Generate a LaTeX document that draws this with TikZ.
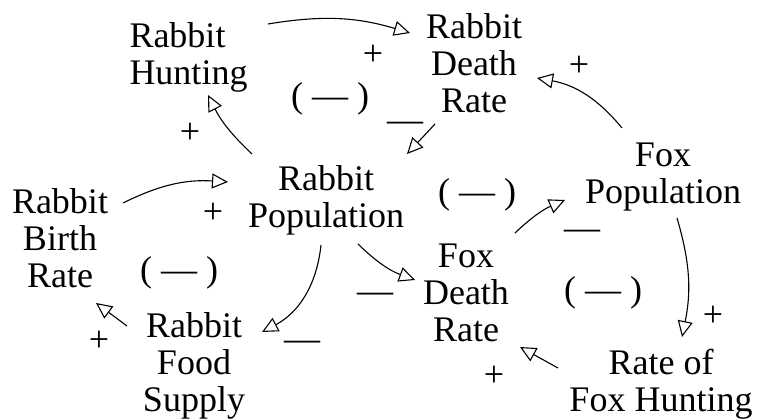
\documentclass[tikz,border=0pt]{standalone}
\usepackage{fontspec}
\setmainfont{Liberation Serif}
\usetikzlibrary{arrows.meta}
\begin{document}
\begin{tikzpicture}[x=1pt,y=1pt,
  lbl/.style={font=\fontsize{36}{37}\selectfont, inner sep=0pt, align=center},
  sgn/.style={font=\fontsize{36}{37}\selectfont, inner sep=0pt, anchor=base},
  link/.style={line width=1.1pt, -{Triangle[open,length=16pt,width=15pt,line width=1.1pt]}}]
\useasboundingbox (0,0) rectangle (757,419);
% nodes
\node[lbl, align=left] (RH) at (188.5,361.5) {Rabbit\\Hunting};
\node[lbl] (RDR) at (474,356) {Rabbit\\Death\\Rate};
\node[lbl] (RP) at (326,219) {Rabbit\\Population};
\node[lbl] (RBR) at (60,181) {Rabbit\\Birth\\Rate};
\node[lbl] (RFS) at (194,53) {Rabbit\\Food\\Supply};
\node[lbl] (FDR) at (466,126) {Fox\\Death\\Rate};
\node[lbl] (FP) at (663,242) {Fox\\Population};
\node[lbl] (RFH) at (661,35) {Rate of\\Fox Hunting};
% connectors
\draw[link] ([shift={(79.5,33.5)}]RH.center) to[bend left=13] ([shift={(-64,30)}]RDR.center);
\draw[link] ([shift={(-39,-61)}]RDR.center) -- ([shift={(81,46)}]RP.center);
\draw[link] ([shift={(-41,49)}]FP.center) to[bend right=20] ([shift={(63,-15)}]RDR.center);
\draw[link] ([shift={(-74,46)}]RP.center) to[bend left=10] ([shift={(19.5,-37.5)}]RH.center);
\draw[link] ([shift={(63,35)}]RBR.center) to[bend left=15] ([shift={(-98,18)}]RP.center);
\draw[link] ([shift={(-67,40)}]RFS.center) -- ([shift={(36,-65)}]RBR.center);
\draw[link] ([shift={(-5,-45)}]RP.center) to[bend left=28] ([shift={(68,34)}]RFS.center);
\draw[link] ([shift={(32,-44)}]RP.center) to[bend right=12] ([shift={(-51,13)}]FDR.center);
\draw[link] ([shift={(49,60)}]FDR.center) to[bend left=10] ([shift={(-98,-23)}]FP.center);
\draw[link] ([shift={(14,-41)}]FP.center) to[bend left=14] ([shift={(21,47)}]RFH.center);
\draw[link] ([shift={(-103,16)}]RFH.center) -- ([shift={(54,-54)}]FDR.center);
% labels
\node[sgn] (s1) at (373,353) {+};
\node[sgn] (s2) at (330,311) {( — )};
\node[sgn] (s3) at (405,287) {—};
\node[sgn] (s4) at (190,275) {+};
\node[sgn] (s5) at (579,342) {+};
\node[sgn] (s6) at (477,215) {( — )};
\node[sgn] (s7) at (582,179) {—};
\node[sgn] (s8) at (213,195) {+};
\node[sgn] (s9) at (179,137) {( — )};
\node[sgn] (s10) at (375,116) {—};
\node[sgn] (s11) at (99,67) {+};
\node[sgn] (s12) at (302,68) {—};
\node[sgn] (s13) at (603,117) {( — )};
\node[sgn] (s14) at (713,92) {+};
\node[sgn] (s15) at (494,32) {+};
\end{tikzpicture}
\end{document}
